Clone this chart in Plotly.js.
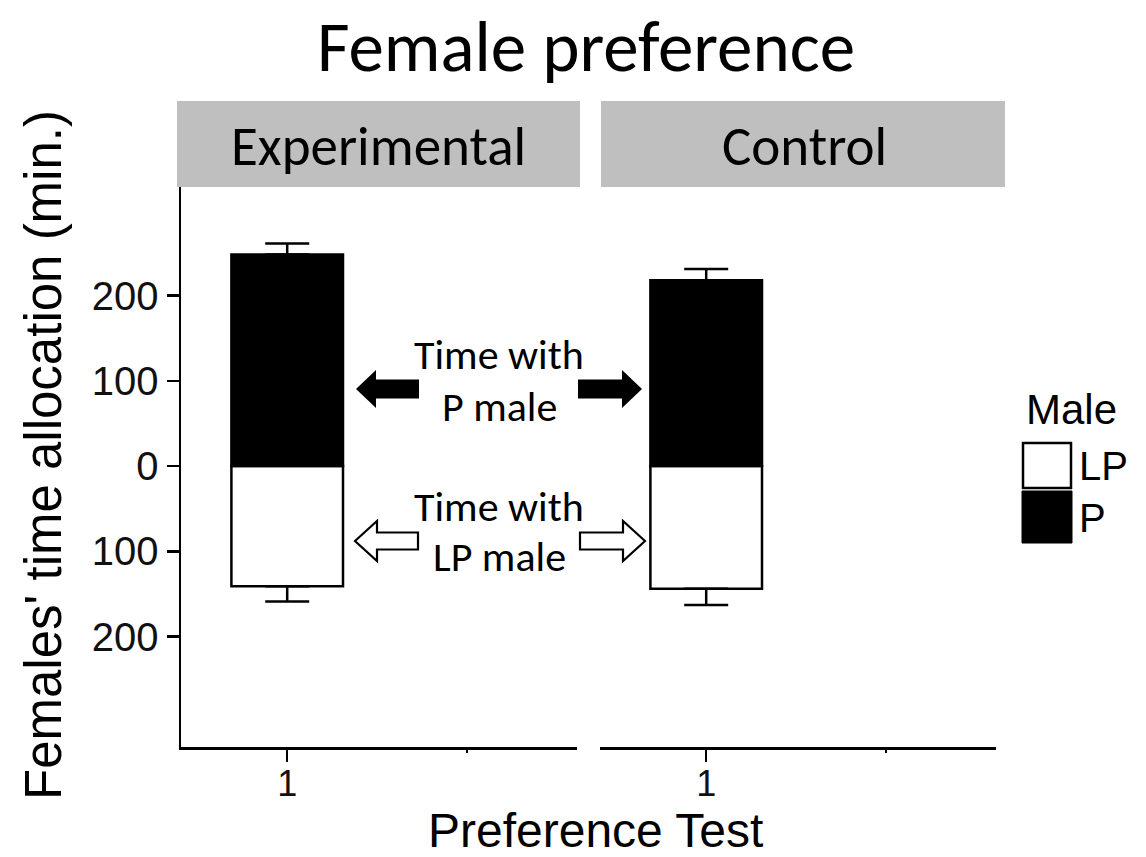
<!DOCTYPE html>
<html><head><meta charset="utf-8">
<script src="https://cdn.plot.ly/plotly-3.0.1.min.js"></script>
<style>html,body{margin:0;padding:0;background:#fff}#chart{width:1146px;height:857px}</style>
</head><body><div id="chart"></div>
<script>
// ---- data ----
const panels = ['Experimental', 'Control'];
const testX = [1];
const testLabels = ['1'];
const timeP = [248, 218];     // minutes with P male (plotted upward)
const timeLP = [141, 144];    // minutes with LP male (plotted downward)
const errP = [13, 13];
const errLP = [18, 19];
const yTickVals = [-200, -100, 0, 100, 200];
const yTickText = ['200', '100', '0', '100', '200'];
const legendTitle = 'Male';
const legendItems = ['LP', 'P'];
const titleText = 'Female preference';
const xTitle = 'Preference Test';
const yTitle = "Females' time allocation (min.)";
const noteP = ['Time with', 'P male'];
const noteLP = ['Time with', 'LP male'];

// ---- helpers ----
const W = 1146, H = 857;
const px = x => x / W, py = y => 1 - y / H;
const ARIAL = 'Liberation Sans, Arial, Helvetica, sans-serif';
const CALIBRI = 'Carlito, Calibri, Lato, sans-serif';

const traces = [];
panels.forEach((p, i) => {
  const xa = i === 0 ? 'x' : 'x2', ya = i === 0 ? 'y' : 'y2';
  traces.push({
    type: 'bar', x: testX, y: [-timeLP[i]], width: 0.62, xaxis: xa, yaxis: ya,
    name: 'LP', showlegend: false,
    marker: {color: '#ffffff', line: {color: '#000', width: 2.5}},
    error_y: {type: 'data', symmetric: false, array: [0], arrayminus: [errLP[i]],
      color: '#000', thickness: 2.5, width: 22}
  });
  traces.push({
    type: 'bar', x: testX, y: [timeP[i]], width: 0.62, xaxis: xa, yaxis: ya,
    name: 'P', showlegend: false,
    marker: {color: '#000000', line: {color: '#000', width: 2.5}},
    error_y: {type: 'data', symmetric: false, array: [errP[i]], arrayminus: [0],
      color: '#000', thickness: 2.5, width: 22}
  });
});

function xAxis(d0, d1, anchor) {
  return {
    domain: [px(d0), px(d1)], range: [0.41, 2.61], anchor: anchor,
    tickmode: 'array', tickvals: testX, ticktext: testLabels,
    ticks: 'outside', ticklen: 12, tickwidth: 2.5, tickcolor: '#000',
    ticklabelstandoff: -9,
    showline: true, linewidth: 2.5, linecolor: '#000',
    showgrid: false, zeroline: false, fixedrange: true,
    tickfont: {family: ARIAL, size: 36, color: '#111'},
    minor: {tickmode: 'array', tickvals: [2], ticks: 'outside', ticklen: 3,
      tickwidth: 2.5, tickcolor: '#000', showgrid: false}
  };
}
const yRange = [-329.6, 327.3];

const shapes = [];
// facet strips
shapes.push({type: 'rect', xref: 'paper', yref: 'paper', x0: px(177), x1: px(580), y0: py(187), y1: py(101),
  fillcolor: '#bfbfbf', line: {width: 0}});
shapes.push({type: 'rect', xref: 'paper', yref: 'paper', x0: px(601), x1: px(1005), y0: py(187), y1: py(101),
  fillcolor: '#bfbfbf', line: {width: 0}});

function arrow(tipX, tailX, cy, headLen, headHalf, shaftHalf, fill) {
  const dir = Math.sign(tailX - tipX);
  const hx = tipX + dir * headLen;
  const pts = [[tipX, cy], [hx, cy - headHalf], [hx, cy - shaftHalf], [tailX, cy - shaftHalf],
    [tailX, cy + shaftHalf], [hx, cy + shaftHalf], [hx, cy + headHalf]];
  const path = 'M ' + pts.map(q => px(q[0]) + ',' + py(q[1])).join(' L ') + ' Z';
  return {type: 'path', xref: 'paper', yref: 'paper', path: path,
    fillcolor: fill, line: {color: '#000', width: fill === '#000' ? 0 : 2.2}};
}
shapes.push(arrow(356, 419, 389, 20, 19, 9.5, '#000'));
shapes.push(arrow(642, 578, 389, 20, 19, 9.5, '#000'));
shapes.push(arrow(355, 418, 541, 22, 20, 8.5, '#fff'));
shapes.push(arrow(645, 580, 541, 22, 20, 8.5, '#fff'));

// legend keys
shapes.push({type: 'rect', xref: 'paper', yref: 'paper', x0: px(1023), x1: px(1071), y0: py(488), y1: py(443),
  fillcolor: '#fff', line: {color: '#000', width: 2.5}});
shapes.push({type: 'rect', xref: 'paper', yref: 'paper', x0: px(1022), x1: px(1072), y0: py(543), y1: py(491),
  fillcolor: '#000', line: {color: '#000', width: 1}});

const ann = [];
function txt(t, x, y, size, fam, extra) {
  ann.push(Object.assign({text: t, xref: 'paper', yref: 'paper', x: px(x), y: py(y),
    xanchor: 'center', yanchor: 'middle', showarrow: false,
    font: {family: fam, size: size, color: '#000'}}, extra || {}));
}
txt(panels[0], 378, 147, 55, CALIBRI);
txt(panels[1], 804, 147, 55, CALIBRI);
txt(noteP[0], 499, 355, 42, CALIBRI);
txt(noteP[1], 499, 406, 42, CALIBRI);
txt(noteLP[0], 499, 506, 42, CALIBRI);
txt(noteLP[1], 499, 556, 42, CALIBRI);
txt(xTitle, 595, 830, 48, ARIAL, {borderpad: 0});
txt(yTitle, 44, 455, 51, ARIAL, {textangle: -90});
txt(legendTitle, 1024, 410, 42, ARIAL, {xanchor: 'left'});
txt(legendItems[0], 1077, 466, 40, ARIAL, {xanchor: 'left'});
txt(legendItems[1], 1077, 518, 40, ARIAL, {xanchor: 'left'});

const layout = {
  width: W, height: H, margin: {l: 0, r: 0, t: 0, b: 0},
  paper_bgcolor: '#fff', plot_bgcolor: '#fff',
  barmode: 'relative', showlegend: false,
  title: {text: titleText, font: {family: CALIBRI, size: 71, color: '#000'},
    x: px(586), xanchor: 'center', y: 1 - 46 / H, yanchor: 'middle'},
  xaxis: xAxis(181, 577, 'y'),
  xaxis2: xAxis(600, 996, 'y2'),
  yaxis: {domain: [py(747), py(187)], range: yRange, anchor: 'x',
    tickmode: 'array', tickvals: yTickVals, ticktext: yTickText,
    ticks: 'outside', ticklen: 12, tickwidth: 2.5, tickcolor: '#000',
    showline: true, linewidth: 2.5, linecolor: '#000', showgrid: false, zeroline: false,
    fixedrange: true, tickfont: {family: ARIAL, size: 40, color: '#111'}},
  yaxis2: {domain: [py(747), py(187)], range: yRange, anchor: 'x2',
    showline: false, showticklabels: false, ticks: '', showgrid: false, zeroline: false, fixedrange: true},
  shapes: shapes, annotations: ann
};
Plotly.newPlot('chart', traces, layout, {displayModeBar: false, staticPlot: true});
</script></body></html>
